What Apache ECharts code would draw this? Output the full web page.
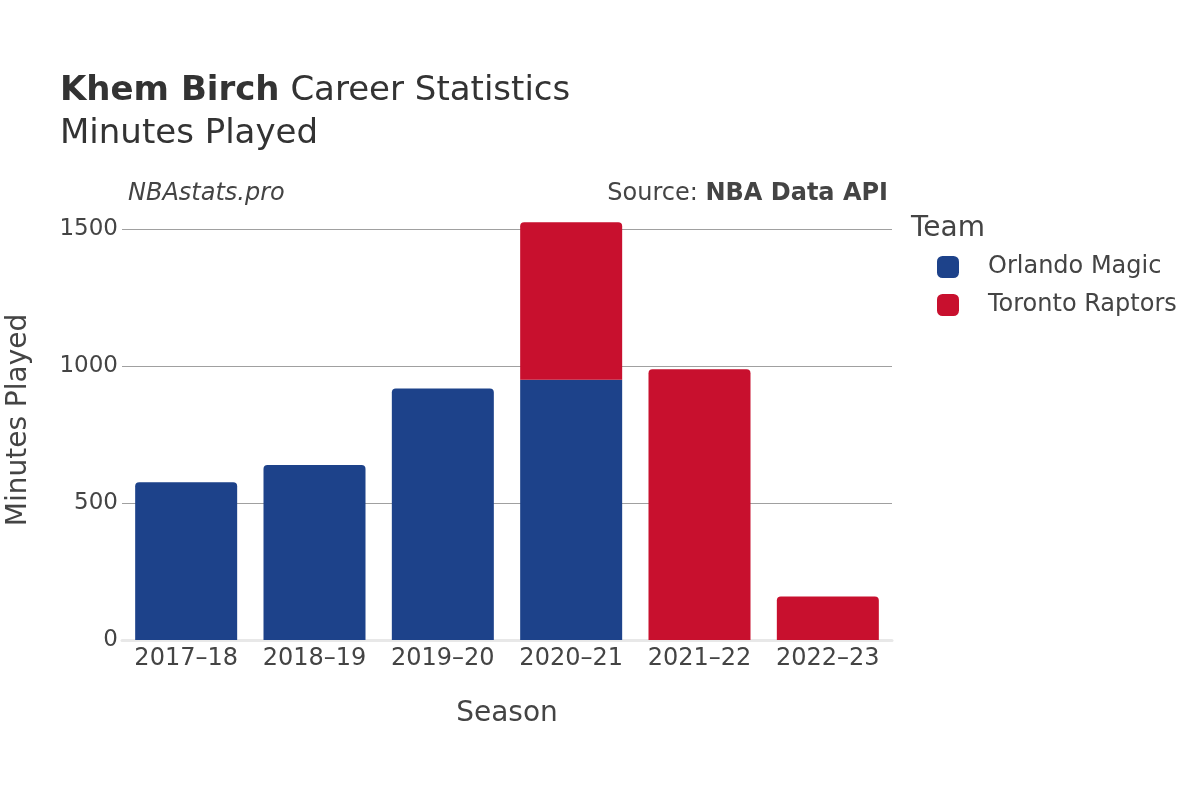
<!DOCTYPE html>
<html>
<head>
<meta charset="utf-8">
<script src="https://cdn.jsdelivr.net/npm/echarts@6/dist/echarts.min.js"></script>
<style>html,body{margin:0;padding:0;background:#fff}#c{width:1200px;height:800px}</style>
</head>
<body>
<div id="c"></div>
<script>
const seasons = ['2017–18','2018–19','2019–20','2020–21','2021–22','2022–23'];
const orlando = [576, 639, 918, 950, null, null];
const toronto = [null, null, null, 575, 988, 159];
const yTicks = [0, 500, 1000, 1500];

const FONT = 'DejaVu Sans';
const TXT = '#444';
const R = 4;

function topIdx(i) {
  return toronto[i] != null ? 'tor' : 'orl';
}
const orlData = orlando.map((v, i) => v == null ? null : {
  value: v,
  itemStyle: { borderRadius: topIdx(i) === 'orl' ? [R, R, 0, 0] : 0 }
});
const torData = toronto.map((v, i) => v == null ? null : {
  value: v,
  itemStyle: { borderRadius: [R, R, 0, 0] }
});

const chart = echarts.init(document.getElementById('c'), null, { renderer: 'canvas' });
chart.setOption({
  animation: false,
  textStyle: { fontFamily: FONT },
  title: [
    {
      left: 60, top: 74, padding: 0,
      text: '{b|Khem Birch}{n| Career Statistics}',
      textStyle: {
        fontWeight: 'normal',
        rich: {
          b: { fontFamily: FONT, fontSize: 34, fontWeight: 'bold', color: '#333' },
          n: { fontFamily: FONT, fontSize: 34, fontWeight: 'normal', color: '#333' }
        }
      }
    },
    {
      left: 60, top: 117, padding: 0,
      text: 'Minutes Played',
      textStyle: { fontFamily: FONT, fontSize: 34, fontWeight: 'normal', color: '#333' }
    },
    {
      left: 128, top: 182, padding: 0,
      text: 'NBAstats.pro',
      textStyle: { fontFamily: FONT, fontSize: 24, fontStyle: 'italic', fontWeight: 'normal', color: TXT }
    },
    {
      right: 312, top: 182, padding: 0,
      text: '{n|Source: }{b|NBA Data API}',
      textStyle: {
        fontWeight: 'normal',
        rich: {
          n: { fontFamily: FONT, fontSize: 24, fontWeight: 'normal', color: TXT },
          b: { fontFamily: FONT, fontSize: 24, fontWeight: 'bold', color: TXT }
        }
      }
    },
    {
      left: 911, top: 215, padding: 0,
      text: 'Team',
      textStyle: { fontFamily: FONT, fontSize: 28, fontWeight: 'normal', color: TXT }
    }
  ],
  legend: {
    orient: 'vertical',
    left: 937, top: 255, padding: 0,
    icon: 'roundRect',
    itemWidth: 22, itemHeight: 22,
    itemGap: 14,
    textStyle: { fontFamily: FONT, fontSize: 24, color: TXT, padding: [0, 0, 0, 24] },
    data: ['Orlando Magic', 'Toronto Raptors']
  },
  grid: { left: 122, right: 308, top: 200, bottom: 160, containLabel: false, outerBoundsMode: 'none' },
  xAxis: {
    type: 'category',
    data: seasons,
    name: 'Season',
    nameLocation: 'middle',
    nameGap: 60,
    nameTextStyle: { fontFamily: FONT, fontSize: 28, color: TXT },
    axisLine: { show: true, lineStyle: { color: '#e8e8e8', width: 3 } },
    axisTick: { show: false },
    axisLabel: { fontFamily: FONT, fontSize: 24, color: TXT, margin: 7, interval: 0, hideOverlap: false }
  },
  yAxis: {
    type: 'value',
    min: 0, max: 1606, interval: 500,
    name: 'Minutes Played',
    nameLocation: 'middle',
    nameGap: 89,
    nameTextStyle: { fontFamily: FONT, fontSize: 28, color: TXT },
    axisLine: { show: false },
    axisTick: { show: false },
    axisLabel: {
      fontFamily: FONT, fontSize: 23, color: TXT, margin: 4,
      padding: [4, 0, 0, 0],
      showMaxLabel: false,
      formatter: v => yTicks.includes(v) ? String(v) : ''
    },
    splitLine: {
      show: true,
      lineStyle: { color: ['rgba(0,0,0,0)', '#a0a0a0', '#a0a0a0', '#a0a0a0', 'rgba(0,0,0,0)'], width: 1 }
    }
  },
  series: [
    {
      name: 'Orlando Magic', type: 'bar', stack: 'total',
      data: orlData, barWidth: 102,
      itemStyle: { color: '#1d428a' }
    },
    {
      name: 'Toronto Raptors', type: 'bar', stack: 'total',
      data: torData, barWidth: 102,
      itemStyle: { color: '#c8102e' }
    }
  ]
});
</script>
</body>
</html>
